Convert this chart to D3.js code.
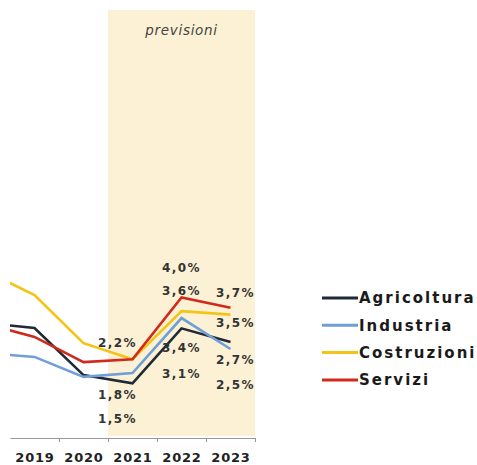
<!DOCTYPE html>
<html>
<head>
<meta charset="utf-8">
<script src="https://cdn.jsdelivr.net/npm/d3@7"></script>
<style>
  body { margin: 0; background: #fff; }
  text { font-family: "DejaVu Sans", sans-serif; }
</style>
</head>
<body>
<div id="chart"></div>
<script>
var svgWidth = 477;
var svgHeight = 465;

// years (2018 sits outside the visible plot and is clipped)
var years = [2018, 2019, 2020, 2021, 2022, 2023];
var axisYears = [2019, 2020, 2021, 2022, 2023];
var forecastYears = [2021, 2023];

// series values (%)
var agricoltura = [3.26, 3.11, 1.74, 1.5, 3.1, 2.7];
var industria = [2.38, 2.27, 1.69, 1.8, 3.4, 2.5];
var costruzioni = [4.77, 4.07, 2.67, 2.2, 3.6, 3.5];
var servizi = [3.23, 2.85, 2.12, 2.2, 4.0, 3.7];

var seriesNames = ["Agricoltura", "Industria", "Costruzioni", "Servizi"];
var seriesValues = [agricoltura, industria, costruzioni, servizi];
var seriesColors = ["#1f2a36", "#6f9ed8", "#f3c416", "#cf2a1c"];

// labelled points: series, year
var labelPoints = [
  ["Servizi", 2021], ["Servizi", 2022], ["Servizi", 2023],
  ["Costruzioni", 2022], ["Costruzioni", 2023],
  ["Industria", 2021], ["Industria", 2022], ["Industria", 2023],
  ["Agricoltura", 2021], ["Agricoltura", 2022], ["Agricoltura", 2023]
];
// label offsets from the point (px)
var labelOffsets = [
  [-15, -17], [0, -30], [5, -15],
  [0, -20], [5, 8],
  [-15, 22], [0, 30], [5, 36],
  [-15, 35], [0, 45], [5, 18]
];

var plot = { left: 10, right: 255, top: 10, bottom: 438 };

var svg = d3.select("#chart")
  .append("svg")
  .attr("width", svgWidth)
  .attr("height", svgHeight);

var x = d3.scaleLinear()
  .domain([2018.5, 2023.5])
  .range([plot.left, plot.right]);

var y = d3.scaleLinear()
  .domain([0, 5])
  .range([435, 263]);

// forecast band
svg.append("rect")
  .attr("x", x(forecastYears[0] - 0.5))
  .attr("y", plot.top)
  .attr("width", x(forecastYears[1] + 0.5) - x(forecastYears[0] - 0.5))
  .attr("height", 436 - plot.top)
  .attr("fill", "#fcf1d4");

svg.append("text")
  .attr("x", x(2022))
  .attr("y", 35)
  .attr("text-anchor", "middle")
  .attr("font-size", 13.5)
  .attr("font-style", "italic")
  .attr("letter-spacing", 0.7)
  .attr("fill", "#444")
  .text("previsioni");

svg.append("clipPath")
  .attr("id", "clip")
  .append("rect")
  .attr("x", plot.left)
  .attr("y", 0)
  .attr("width", plot.right - plot.left)
  .attr("height", svgHeight);

// lines
var line = d3.line()
  .x((d, i) => x(years[i]))
  .y(d => y(d));

svg.append("g")
  .attr("clip-path", "url(#clip)")
  .selectAll("path")
  .data(seriesValues)
  .enter()
  .append("path")
  .attr("d", d => line(d))
  .attr("fill", "none")
  .attr("stroke", (d, i) => seriesColors[i])
  .attr("stroke-width", 2.6)
  .attr("stroke-linejoin", "miter");

// x axis: ticks on year boundaries, labels at year centres
var tickAxis = d3.axisBottom(x)
  .tickValues(axisYears.map(d => d + 0.5))
  .tickSize(4)
  .tickSizeOuter(0)
  .tickFormat("");

var axisG = svg.append("g")
  .attr("transform", `translate(0, ${plot.bottom})`)
  .call(tickAxis);
axisG.selectAll("path, line").attr("stroke", "#999").attr("stroke-width", 1);

var labelAxis = d3.axisBottom(x)
  .tickValues(axisYears)
  .tickSize(0)
  .tickFormat(d3.format("d"));

var labelG = svg.append("g")
  .attr("transform", `translate(0, ${plot.bottom})`)
  .call(labelAxis);
labelG.select(".domain").remove();
labelG.selectAll("text")
  .attr("y", 15)
  .attr("font-family", "DejaVu Sans")
  .attr("font-size", 13)
  .attr("font-weight", "bold")
  .attr("letter-spacing", 0.8)
  .attr("fill", "#222");

// value labels
svg.selectAll(".val")
  .data(labelPoints)
  .enter()
  .append("text")
  .attr("class", "val")
  .attr("x", (d, i) => x(d[1]) + labelOffsets[i][0])
  .attr("y", (d, i) => {
    var v = seriesValues[seriesNames.indexOf(d[0])][years.indexOf(d[1])];
    return y(v) + labelOffsets[i][1];
  })
  .attr("dy", "0.35em")
  .attr("text-anchor", "middle")
  .attr("font-size", 12)
  .attr("font-weight", "bold")
  .attr("letter-spacing", 1.4)
  .attr("fill", "#333")
  .text(d => {
    var v = seriesValues[seriesNames.indexOf(d[0])][years.indexOf(d[1])];
    return d3.format(".1f")(v).replace(".", ",") + "%";
  });

// legend
var legend = svg.append("g")
  .attr("transform", "translate(322, 298)");

var rows = legend.selectAll("g")
  .data(seriesNames)
  .enter()
  .append("g")
  .attr("transform", (d, i) => `translate(0, ${i * 27.3})`);

rows.append("line")
  .attr("x1", 0)
  .attr("x2", 36)
  .attr("stroke", (d, i) => seriesColors[i])
  .attr("stroke-width", 3);

rows.append("text")
  .attr("x", 37)
  .attr("dy", "0.35em")
  .attr("font-size", 15)
  .attr("font-weight", "bold")
  .attr("letter-spacing", 2)
  .attr("fill", "#1a1a1a")
  .text(d => d);
</script>
</body>
</html>
